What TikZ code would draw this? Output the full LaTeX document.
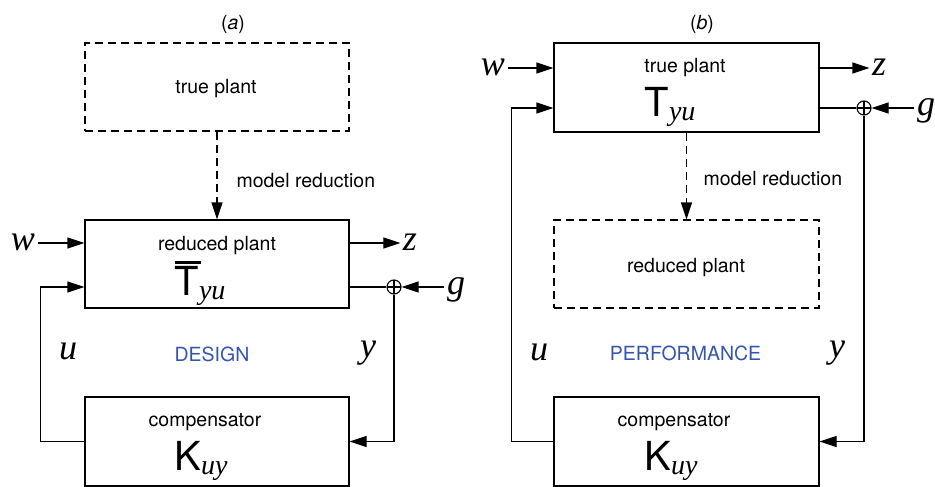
\documentclass[tikz,border=0pt]{standalone}
\usepackage{fontspec}
\setmainfont{TeX Gyre Heros}
\newfontfamily\serifit{Liberation Serif}
\usetikzlibrary{arrows.meta}
\usetikzlibrary{calc}

\definecolor{labelblue}{RGB}{52,84,176}

\newcommand{\subit}[1]{\raisebox{-4pt}{\fontsize{28}{30}\selectfont\serifit\itshape #1}}
\newcommand{\barT}{\leavevmode\rlap{\rule[31pt]{26pt}{2.6pt}}T}

\begin{document}
\begin{tikzpicture}[
    x=1pt, y=-1pt,
    line width=1.1pt,
    box/.style={draw, minimum width=264pt, minimum height=88pt, inner sep=0pt},
    dbox/.style={box, dash pattern=on 8pt off 5pt},
    arr/.style={-{Triangle[length=17pt,width=11pt]}},
    txt/.style={anchor=base, inner sep=0pt, font=\fontsize{19.5}{22}\selectfont},
    big/.style={anchor=base, inner sep=0pt, font=\fontsize{40}{44}\selectfont},
    sig/.style={inner sep=2pt, text height=15pt, text depth=0pt, font=\fontsize{36}{38}\selectfont\serifit\itshape},
    lbl/.style={anchor=base, inner sep=0pt, font=\fontsize{36}{38}\selectfont\serifit\itshape},
    sumnode/.style={draw, circle, minimum size=14pt, inner sep=0pt,
      path picture={\draw (path picture bounding box.north) -- (path picture bounding box.south)
        (path picture bounding box.west) -- (path picture bounding box.east);}}
  ]
    \useasboundingbox (0,0) rectangle (935,487);

    % (a) design
    \node[txt] (capa) at (233,30) {(\textit{a})};
    \node[dbox] (truea) at (217,87) {};
    \node[txt] (truealbl) at (216,93) {true plant};
    \node[box] (reda) at (217,264) {};
    \node[txt] (redalbl) at (217,250) {reduced plant};
    \node[big] (Ta) at (200,295) {\barT\subit{yu}};
    \node[box, minimum height=89pt] (compa) at (217,441.5) {};
    \node[txt] (compalbl) at (205,426) {compensator};
    \node[big] (Ka) at (201,470) {K\subit{uy}};
    \node[txt, anchor=base west] (mra) at (236,187) {model reduction};
    \node[txt, text=labelblue] (design) at (212,361) {DESIGN};
    \node[lbl] (ua) at (68,359) {u};
    \node[lbl] (ya) at (368,357) {y};
    \node[sig] (wa) at (23,243) {w};
    \node[sig] (za) at (410,243) {z};
    \node[sig] (ga) at (456,287) {g};
    \node[sumnode] (suma) at (394,287) {};

    \draw[arr, dash pattern=on 8pt off 5pt] (truea.south) -- (reda.north);
    \draw[arr] (wa.east) -- (wa.east -| reda.west);
    \draw[arr] (za.west -| reda.east) -- (za.west);
    \draw (suma.west -| reda.east) -- (suma.west);
    \draw[arr] (ga.west) -- (suma.east);
    \draw[arr] (suma.south) |- (compa.east);
    \draw[arr] (compa.west) -- ++(-44,0) |- ([yshift=-23pt]reda.west);

    % (b) performance
    \node[txt] (capb) at (702,30) {(\textit{b})};
    \node[box, minimum width=265pt, minimum height=89pt] (trueb) at (686.5,87.5) {};
    \node[txt] (trueblbl) at (685,73) {true plant};
    \node[big] (Tb) at (670,117) {T\subit{yu}};
    \node[dbox, minimum width=265pt] (redb) at (686.5,264) {};
    \node[txt] (redblbl) at (686,272) {reduced plant};
    \node[box, minimum width=265pt, minimum height=89pt] (compb) at (686.5,441.5) {};
    \node[txt] (compblbl) at (674,426) {compensator};
    \node[big] (Kb) at (671,470) {K\subit{uy}};
    \node[txt, anchor=base west] (mrb) at (703,185) {model reduction};
    \node[txt, text=labelblue] (perf) at (685.5,360) {PERFORMANCE};
    \node[lbl] (ub) at (539,360) {u};
    \node[lbl] (yb) at (837,357) {y};
    \node[sig] (wb) at (493,68) {w};
    \node[sig] (zb) at (879,68) {z};
    \node[sig] (gb) at (926,108) {g};
    \node[sumnode] (sumb) at (864,108) {};

    \draw[arr, dash pattern=on 8pt off 5pt] (trueb.south) -- (redb.north);
    \draw[arr] (wb.east) -- (wb.east -| trueb.west);
    \draw[arr] (zb.west -| trueb.east) -- (zb.west);
    \draw (sumb.west -| trueb.east) -- (sumb.west);
    \draw[arr] (gb.west) -- (sumb.east);
    \draw[arr] (sumb.south) |- (compb.east);
    \draw[arr] (compb.west) -- ++(-42,0) |- ([yshift=-20.5pt]trueb.west);
  \end{tikzpicture}
\end{document}
